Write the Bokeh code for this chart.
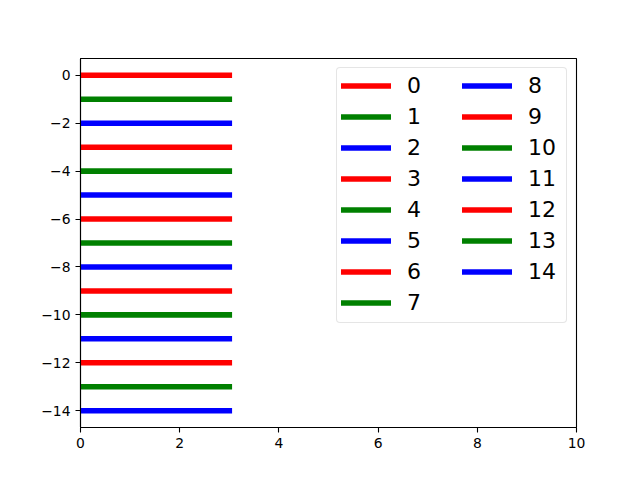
from bokeh.plotting import figure
from bokeh.models import Legend, LegendItem, FixedTicker, CustomJSTickFormatter, Range1d
from bokeh.embed import file_html
from bokeh.resources import INLINE

# data
series = [str(i) for i in range(15)]
y_values = [0, -1, -2, -3, -4, -5, -6, -7, -8, -9, -10, -11, -12, -13, -14]
x_start = [0] * 15
x_end = [3] * 15
colors = ["#ff0000", "#008000", "#0000ff"] * 5
x_ticks = [0, 2, 4, 6, 8, 10]
y_ticks = [0, -2, -4, -6, -8, -10, -12, -14]

p = figure(frame_width=496, frame_height=369, min_border_left=80, min_border_right=64,
           min_border_top=58, min_border_bottom=53, output_backend="svg",
           toolbar_location=None, x_range=Range1d(0, 10), y_range=Range1d(-14.7, 0.7))
p.background_fill_color = "white"
p.border_fill_color = "white"
p.xgrid.visible = False
p.ygrid.visible = False
p.outline_line_color = "black"
p.outline_line_width = 1.1

fmt = CustomJSTickFormatter(code="return tick < 0 ? '\\u2212' + Math.abs(tick) : String(tick);")
for ax, ticks in ((p.xaxis[0], x_ticks), (p.yaxis[0], y_ticks)):
    ax.ticker = FixedTicker(ticks=ticks)
    ax.formatter = fmt
    ax.minor_tick_line_color = None
    ax.major_tick_in = 0
    ax.major_tick_out = 5
    ax.major_tick_line_width = 1.1
    ax.axis_line_width = 1.1
    ax.major_label_text_font = "DejaVu Sans"
    ax.major_label_text_font_size = "13.9px"
    ax.major_label_text_color = "black"
    ax.major_label_standoff = 5

renderers = []
for name, y, x0, x1, c in zip(series, y_values, x_start, x_end, colors):
    r = p.line([x0, x1], [y, y], line_color=c, line_width=5.56, line_cap="square")
    renderers.append(r)

# legend box
dummy = p.line([], [], line_alpha=0)
box_kw = dict(border_line_color="#cccccc", border_line_width=1,
              background_fill_color="white", background_fill_alpha=0.8)
if "border_radius" in Legend.properties():
    box_kw["border_radius"] = 4
box = Legend(items=[LegendItem(label=" ", renderers=[dummy])], location=(256, 104),
             padding=0, margin=0, spacing=0, glyph_width=229, glyph_height=254,
             label_height=254, label_width=0, label_standoff=0,
             label_text_font_size="1px", **box_kw)
p.add_layout(box, "center")

common = dict(padding=0, margin=0, spacing=0, glyph_width=50, glyph_height=31,
              label_height=31, label_width=20, label_standoff=16,
              label_text_font="DejaVu Sans", label_text_font_size="22px",
              label_text_color="black",
              border_line_color=None, background_fill_alpha=0)
leg1 = Legend(items=[LegendItem(label=series[i], renderers=[renderers[i]]) for i in range(8)],
              location=(261, 109), **common)
leg2 = Legend(items=[LegendItem(label=series[i], renderers=[renderers[i]]) for i in range(8, 15)],
              location=(382, 140), **common)
p.add_layout(leg1, "center")
p.add_layout(leg2, "center")

open("out.html", "w").write(file_html(p, INLINE))
